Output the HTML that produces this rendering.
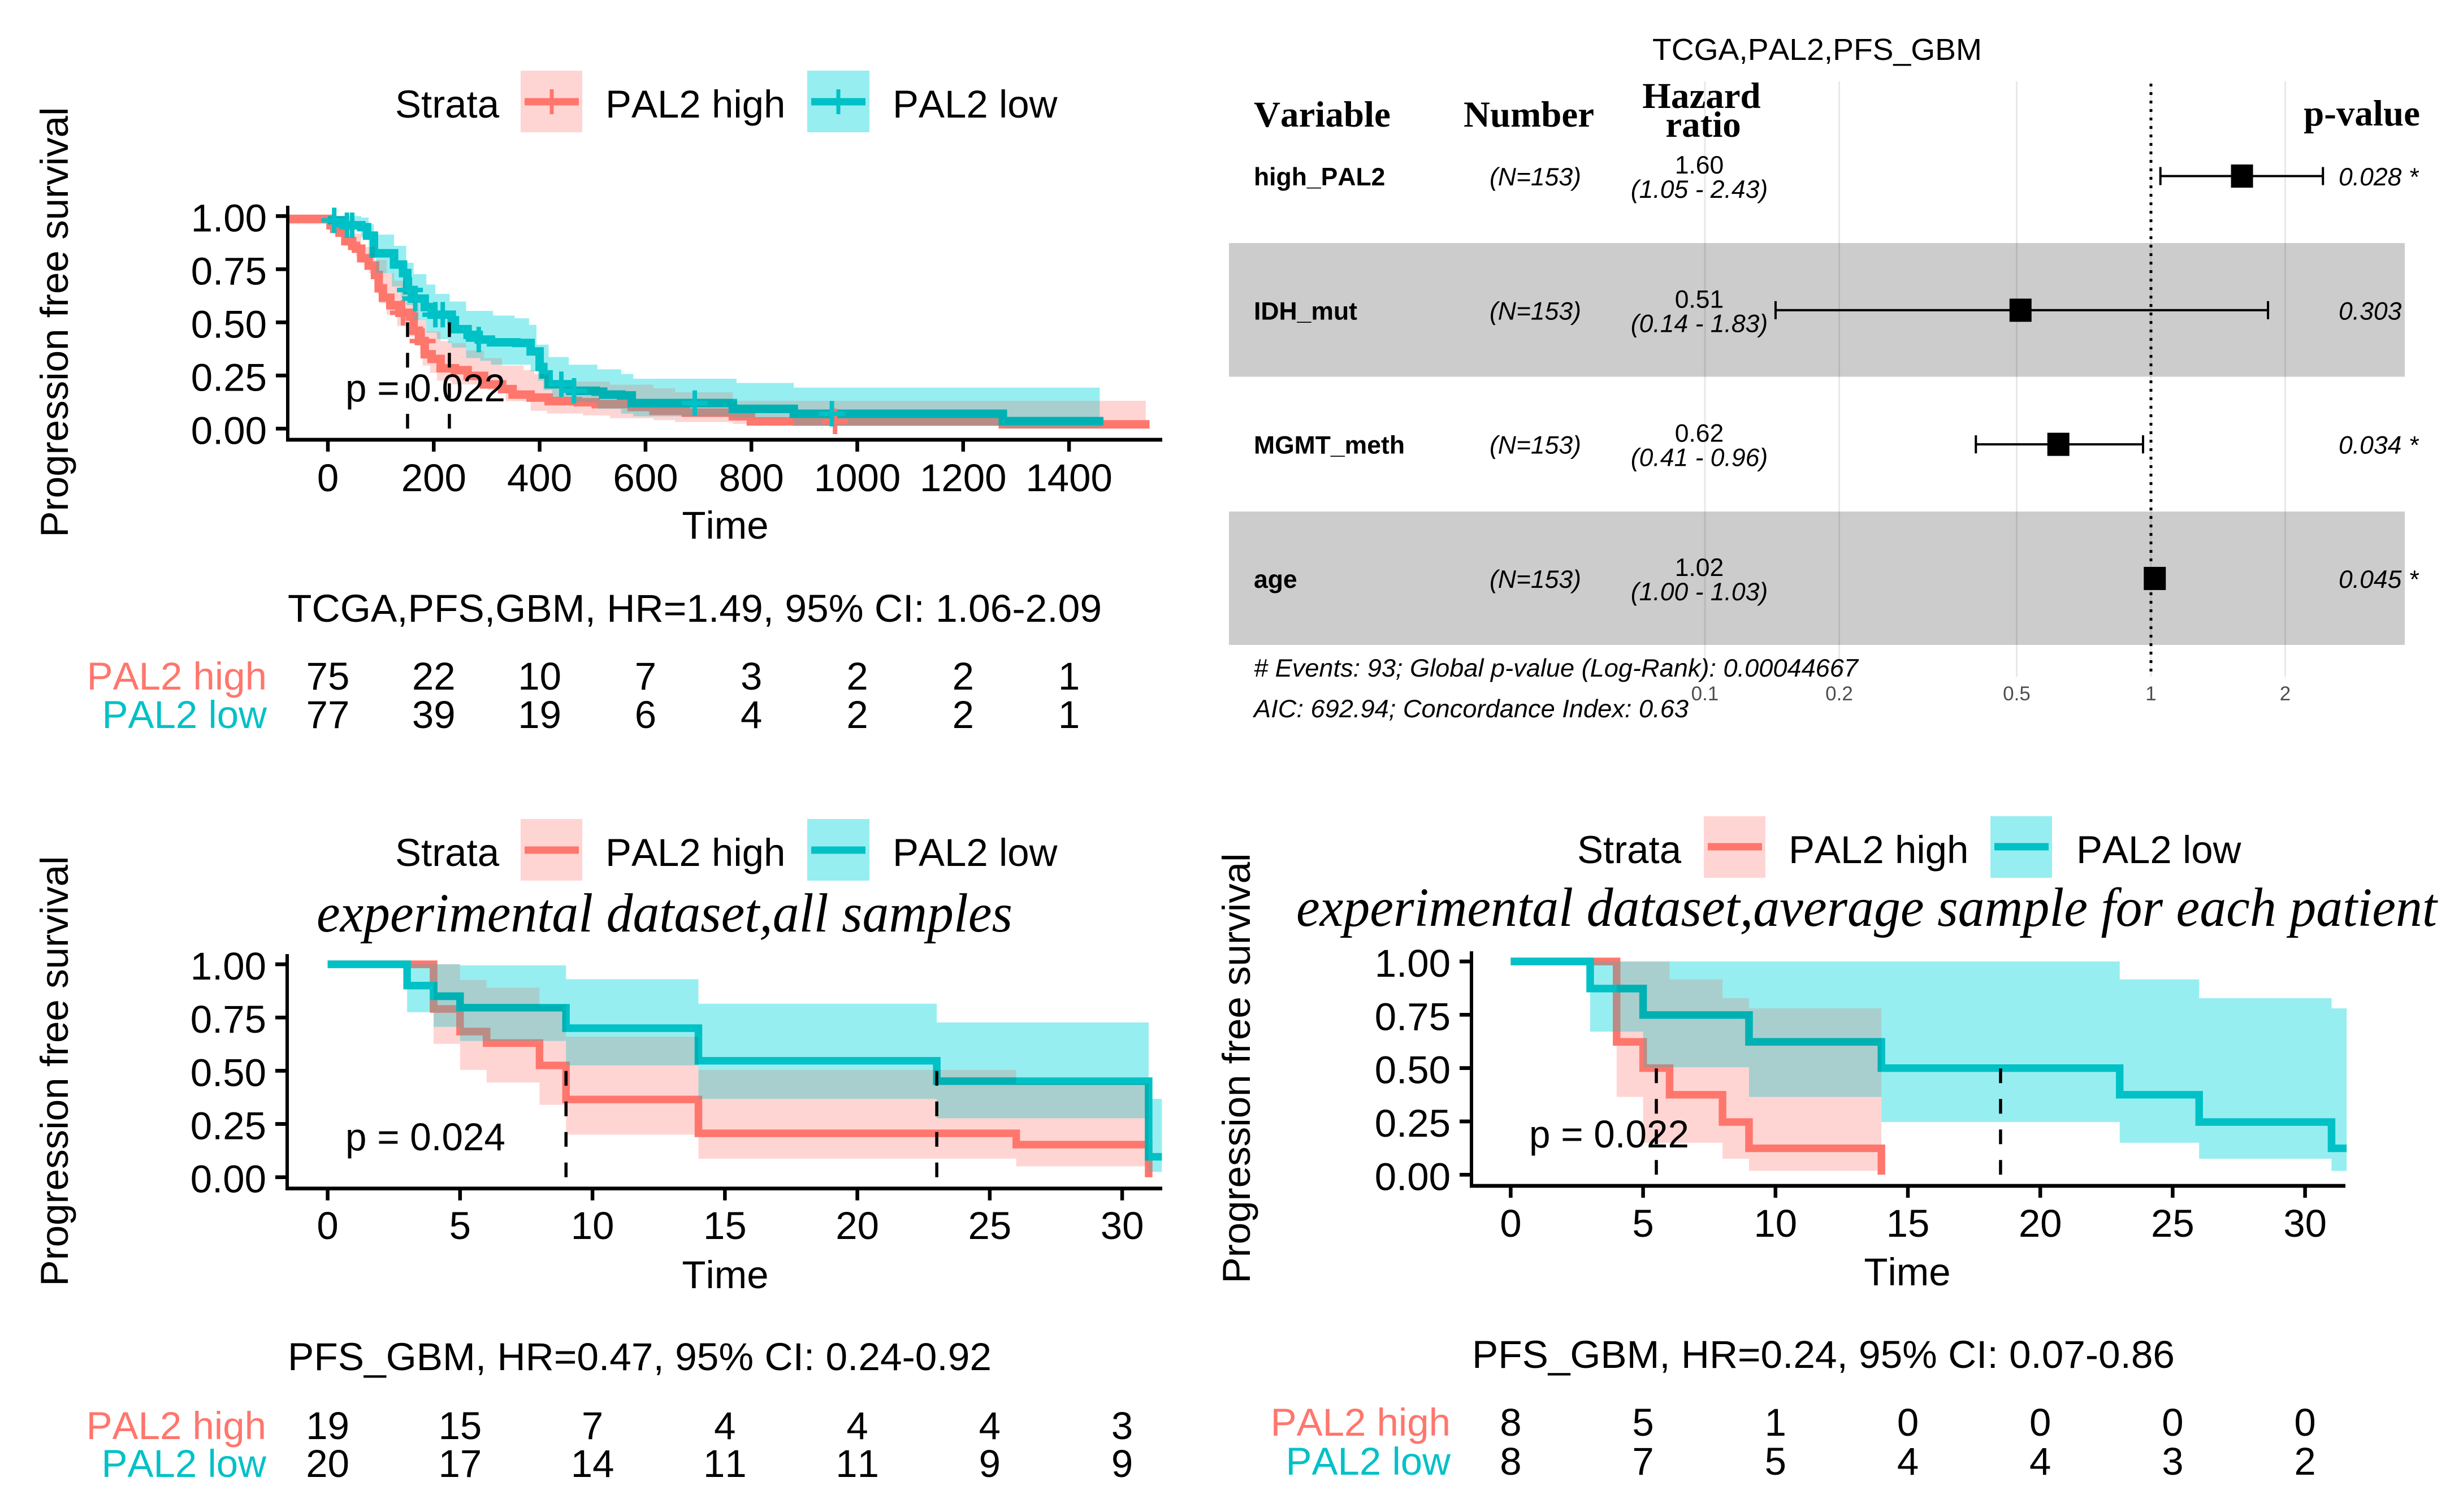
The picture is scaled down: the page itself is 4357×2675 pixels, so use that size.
<!DOCTYPE html>
<html lang="en">
<head>
<meta charset="utf-8">
<title>PAL2 survival analysis panels</title>
<style>
html,body{margin:0;padding:0;background:#fff;}
svg{display:block;}
text{font-family:"Liberation Sans",Arial,sans-serif;fill:#000;font-kerning:none;}
.big{font-size:69px;}
.serif-title{font-family:"Liberation Serif",serif;font-style:italic;font-size:98px;}
.head{font-family:"Liberation Serif",serif;font-weight:bold;font-size:65px;}
.fp{font-size:44.5px;}
</style>
</head>
<body>
<svg id="figure" xmlns="http://www.w3.org/2000/svg" width="4357" height="2675" viewBox="0 0 4357 2675">
  <rect x="0" y="0" width="4357" height="2675" fill="#ffffff"/>

  <g id="panel-a">
    <text class="big" transform="translate(120,570) rotate(-90)" text-anchor="middle" textLength="761" lengthAdjust="spacingAndGlyphs">Progression free survival</text>
    <g>
      <text class="big" x="699" y="208">Strata</text>
      <rect x="921" y="125" width="109" height="109" fill="#FFD5D3"/>
      <line x1="928" x2="1024" y1="180" y2="180" stroke="#FF766D" stroke-width="13"/>
      <line x1="976" x2="976" y1="158" y2="202" stroke="#FF766D" stroke-width="7"/>
      <text class="big" x="1071" y="208">PAL2 high</text>
      <rect x="1428" y="125" width="110" height="109" fill="#97EEF0"/>
      <line x1="1435" x2="1531" y1="180" y2="180" stroke="#00C1C6" stroke-width="13"/>
      <line x1="1483" x2="1483" y1="158" y2="202" stroke="#00C1C6" stroke-width="7"/>
      <text class="big" x="1579" y="208">PAL2 low</text>
    </g>
    <text class="big" x="1283" y="953" text-anchor="middle">Time</text>
    <text class="big" x="509" y="1100" textLength="1440" lengthAdjust="spacingAndGlyphs">TCGA,PFS,GBM, HR=1.49, 95% CI: 1.06-2.09</text>
  </g>

  <g id="panel-c">
    <text class="big" transform="translate(120,1895) rotate(-90)" text-anchor="middle" textLength="761" lengthAdjust="spacingAndGlyphs">Progression free survival</text>
    <g>
      <text class="big" x="699" y="1532">Strata</text>
      <rect x="921" y="1449" width="109" height="109" fill="#FFD5D3"/>
      <line x1="928" x2="1024" y1="1504" y2="1504" stroke="#FF766D" stroke-width="13"/>
      <text class="big" x="1071" y="1532">PAL2 high</text>
      <rect x="1428" y="1449" width="110" height="109" fill="#97EEF0"/>
      <line x1="1435" x2="1531" y1="1504" y2="1504" stroke="#00C1C6" stroke-width="13"/>
      <text class="big" x="1579" y="1532">PAL2 low</text>
    </g>
    <text class="serif-title" x="560" y="1648" textLength="1231" lengthAdjust="spacingAndGlyphs">experimental dataset,all samples</text>
    <text class="big" x="1283" y="2279" text-anchor="middle">Time</text>
    <text class="big" x="509" y="2424" textLength="1245" lengthAdjust="spacingAndGlyphs">PFS_GBM, HR=0.47, 95% CI: 0.24-0.92</text>
  </g>

  <g id="panel-d">
    <text class="big" transform="translate(2211,1890) rotate(-90)" text-anchor="middle" textLength="761" lengthAdjust="spacingAndGlyphs">Progression free survival</text>
    <g>
      <text class="big" x="2790" y="1527">Strata</text>
      <rect x="3014" y="1444" width="109" height="109" fill="#FFD5D3"/>
      <line x1="3021" x2="3117" y1="1498" y2="1498" stroke="#FF766D" stroke-width="13"/>
      <text class="big" x="3164" y="1527">PAL2 high</text>
      <rect x="3521" y="1444" width="109" height="109" fill="#97EEF0"/>
      <line x1="3528" x2="3624" y1="1498" y2="1498" stroke="#00C1C6" stroke-width="13"/>
      <text class="big" x="3673" y="1527">PAL2 low</text>
    </g>
    <text class="serif-title" x="2293" y="1638" textLength="2018" lengthAdjust="spacingAndGlyphs">experimental dataset,average sample for each patient</text>
    <text class="big" x="3374" y="2274" text-anchor="middle">Time</text>
    <text class="big" x="2604" y="2420" textLength="1243" lengthAdjust="spacingAndGlyphs">PFS_GBM, HR=0.24, 95% CI: 0.07-0.86</text>
  </g>

  <g id="panel-b">
    <text x="2923" y="106" font-size="54" textLength="583" lengthAdjust="spacingAndGlyphs">TCGA,PAL2,PFS_GBM</text>
    <rect x="2174" y="430" width="2080" height="236.5" fill="#CCCCCC"/>
    <rect x="2174" y="905" width="2080" height="236" fill="#CCCCCC"/>
    <text class="head" x="2218" y="224">Variable</text>
    <text class="head" x="2589" y="224">Number</text>
    <text class="head" x="3010" y="191" text-anchor="middle">Hazard</text>
    <text class="head" x="3013" y="242" text-anchor="middle">ratio</text>
    <text class="head" x="4281" y="222" text-anchor="end">p-value</text>
    <text class="fp" x="2218" y="1197" font-style="italic" textLength="1069" lengthAdjust="spacingAndGlyphs"># Events: 93; Global p-value (Log-Rank): 0.00044667</text>
    <text class="fp" x="2218" y="1269" font-style="italic" textLength="769" lengthAdjust="spacingAndGlyphs">AIC: 692.94; Concordance Index: 0.63</text>
  </g>
</svg>

<script>
/* Panel A: TCGA */
const aTicksX = [0, 200, 400, 600, 800, 1000, 1200, 1400];
const aHighTime = [-76,5,12,22,33,46,53,63,77,89,96,104,118,135,155,162,172,183,196,213,240,264,295,329,349,383,417,472,506,574,615,676,765,799,1275,1552];
const aHighSurv = [.987,.957,.94,.922,.882,.86,.847,.802,.767,.723,.66,.616,.581,.545,.527,.461,.412,.35,.328,.284,.275,.248,.208,.186,.16,.146,.129,.124,.115,.102,.084,.075,.058,.034,.02,.02];
const aHighUpperTime = [-76,33,63,89,111,125,145,162,172,186,213,234,261,295,329,370,390,417,533,615,656,765,1545];
const aHighUpper = [1,.918,.855,.793,.731,.696,.66,.59,.51,.457,.412,.403,.368,.332,.297,.275,.257,.222,.207,.19,.171,.131,.131];
const aHighLowerTime = [-76,33,53,63,77,94,97,111,131,152,165,179,193,206,234,302,336,383,414,482,533,615,656,765,799,1275,1545];
const aHighLower = [.962,.86,.811,.78,.731,.634,.59,.536,.483,.434,.403,.297,.262,.226,.208,.182,.129,.084,.071,.062,.049,.04,.031,.022,.014,.002,.002];
const aLowTime = [0,29,63,74,87,125,142,150,162,183,196,234,240,264,285,308,356,383,400,407,417,458,506,520,554,574,765,880,1275,1465];
const aLowSurv = [.98,.957,.948,.908,.825,.772,.732,.652,.612,.572,.536,.51,.468,.441,.419,.406,.403,.363,.29,.255,.209,.178,.174,.16,.156,.12,.093,.07,.035,.035];
const aLowUpperTime = [0,63,77,87,125,148,162,186,203,230,261,312,353,380,394,417,455,509,554,577,772,880,1458];
const aLowUpper = [1,.993,.962,.913,.86,.78,.727,.678,.634,.598,.554,.532,.519,.488,.395,.337,.301,.279,.257,.235,.215,.193,.193];
const aLowLowerTime = [0,29,63,77,91,121,138,148,162,186,206,227,234,261,288,308,383,397,407,424,458,509,554,577,765,880,1275,1458];
const aLowLower = [.971,.935,.9,.802,.731,.669,.616,.581,.51,.452,.421,.403,.381,.332,.319,.301,.27,.226,.182,.146,.124,.093,.071,.058,.049,.012,.002,.002];
const aHighCensor = [142, 179, 958];
const aLowCensor = [12, 36, 46, 155, 165, 203, 217, 285, 441, 465, 693, 952];
const aMedians = [150.5, 229.5];
const aRiskHigh = [75, 22, 10, 7, 3, 2, 2, 1];
const aRiskLow = [77, 39, 19, 6, 4, 2, 2, 1];

/* Panel C: experimental, all samples */
const cTicksX = [0, 5, 10, 15, 20, 25, 30];
const cHighTime = [0,4,5,6,8,9,14,26,31];
const cHighSurv = [1,.79,.684,.63,.525,.365,.206,.153,0];
const cHighUpperTime = [4,5,6,8,9,14,26,31];
const cHighUpper = [1,.926,.89,.81,.66,.504,.44,.44];
const cHighLowerTime = [4,5,6,8,9,14,26,31];
const cHighLower = [.626,.504,.445,.34,.2,.087,.051,.051];
const cLowTime = [0,3,4,5,9,14,23,31,31.5];
const cLowSurv = [1,.9,.85,.796,.7,.547,.451,.096,.096];
const cLowUpperTime = [3,5,9,14,23,31,31.5];
const cLowUpper = [1,.995,.93,.815,.727,.368,.368];
const cLowLowerTime = [3,4,5,9,14,23,31,31.5];
const cLowLower = [.775,.706,.64,.525,.368,.277,.025,.025];
const cMedians = [9, 23];
const cRiskHigh = [19, 15, 7, 4, 4, 4, 3];
const cRiskLow = [20, 17, 14, 11, 11, 9, 9];

/* Panel D: experimental, average sample for each patient */
const dTicksX = [0, 5, 10, 15, 20, 25, 30];
const dHighTime = [0,4,5,6,8,9,14];
const dHighSurv = [1,.623,.5,.375,.247,.124,0];
const dHighUpperTime = [4,6,8,9,14];
const dHighUpper = [1,.916,.828,.78,.78];
const dHighLowerTime = [4,5,8,9,14];
const dHighLower = [.365,.15,.075,.018,.018];
const dLowTime = [0,3,5,9,14,23,26,31,31.57];
const dLowSurv = [1,.873,.749,.623,.5,.375,.247,.124,.124];
const dLowUpperTime = [3,23,26,31,31.57];
const dLowUpper = [1,.916,.828,.78,.78];
const dLowLowerTime = [3,5,9,14,23,26,31,31.57];
const dLowLower = [.671,.504,.365,.247,.15,.075,.018,.018];
const dMedians = [5.5, 18.5];
const dRiskHigh = [8, 5, 1, 0, 0, 0, 0];
const dRiskLow = [8, 7, 5, 4, 4, 3, 2];

/* Shared y axis */
const yTickValues = [0, 0.25, 0.5, 0.75, 1];
const yTickLabels = ['0.00', '0.25', '0.50', '0.75', '1.00'];

/* Forest plot */
const forestVariables = ['high_PAL2', 'IDH_mut', 'MGMT_meth', 'age'];
const forestCounts = ['(N=153)', '(N=153)', '(N=153)', '(N=153)'];
const forestHR = [1.6, 0.51, 0.62, 1.02];
const forestLow = [1.05, 0.144, 0.405, 1.0];
const forestHigh = [2.43, 1.83, 0.96, 1.03];
const forestHRLabels = ['1.60', '0.51', '0.62', '1.02'];
const forestCILabels = ['(1.05 - 2.43)', '(0.14 - 1.83)', '(0.41 - 0.96)', '(1.00 - 1.03)'];
const forestPLabels = ['0.028 *', '0.303', '0.034 *', '0.045 *'];
const forestTicks = [0.1, 0.2, 0.5, 1, 2];
const forestTickLabels = ['0.1', '0.2', '0.5', '1', '2'];

const NS = 'http://www.w3.org/2000/svg';
const RED = '#FF766D';
const TEAL = '#00C1C6';

function node(tag, parent, attrs) {
  const n = document.createElementNS(NS, tag);
  for (const k in attrs) n.setAttribute(k, attrs[k]);
  parent.appendChild(n);
  return n;
}

function stepForward(times, vals, end, fx, fy) {
  let d = '';
  for (let i = 0; i < times.length; i++) {
    d += (i ? 'V' : 'M' + fx(times[0]) + ' ') + fy(vals[i]);
    const next = i + 1 < times.length ? times[i + 1] : end;
    d += 'H' + fx(next);
  }
  return d;
}

function bandPath(upT, up, loT, lo, fx, fy) {
  const end = upT[upT.length - 1];
  let d = stepForward(upT, up, end, fx, fy);
  for (let i = loT.length - 1; i >= 0; i--) {
    d += 'V' + fy(lo[i]);
    d += 'H' + fx(loT[i]);
  }
  return d + 'Z';
}

function drawSurvival(p) {
  const root = document.getElementById(p.id);
  const fx = function (t) { return p.x0 + t * p.unit; };
  const fy = function (s) { return p.y0 - s * (p.y0 - p.y1); };

  const marks = node('g', root, {});
  
  

  const highBandD = bandPath(p.high.upT, p.high.up, p.high.loT, p.high.lo, fx, fy);
  const lowBandD = bandPath(p.low.upT, p.low.up, p.low.loT, p.low.lo, fx, fy);
  const highLineD = stepForward(p.high.t, p.high.s, p.high.t[p.high.t.length - 1], fx, fy);
  const lowLineD = stepForward(p.low.t, p.low.s, p.low.t[p.low.t.length - 1], fx, fy);

  const defs = node('defs', marks, {});
  const clipHigh = node('clipPath', defs, { id: p.id + '-clip-high' });
  node('path', clipHigh, { d: highBandD });
  const clipLow = node('clipPath', defs, { id: p.id + '-clip-low' });
  node('path', clipLow, { d: lowBandD });

  const bandHigh = node('path', marks, { d: highBandD, fill: '#FFD5D3' });
  
  

  const bandLow = node('path', marks, { d: lowBandD, fill: '#97EEF0' });
  
  

  const overlap = node('path', marks, { d: lowBandD, fill: '#A8CFCE', 'clip-path': 'url(#' + p.id + '-clip-high)' });
  
  

  const lineHigh = node('path', marks, { d: highLineD, fill: 'none', stroke: RED, 'stroke-width': p.lineWidth });
  
  

  const lineHighShade = node('path', marks, { d: highLineD, fill: 'none', stroke: '#B98C86', 'stroke-width': p.lineWidth, 'clip-path': 'url(#' + p.id + '-clip-low)' });
  
  

  const lineLow = node('path', marks, { d: lowLineD, fill: 'none', stroke: TEAL, 'stroke-width': p.lineWidth });
  
  

  const lineLowShade = node('path', marks, { d: lowLineD, fill: 'none', stroke: '#00B1B3', 'stroke-width': p.lineWidth, 'clip-path': 'url(#' + p.id + '-clip-high)' });
  
  

  function survAt(series, t) {
    let v = series.s[0];
    for (let i = 0; i < series.t.length; i++) if (series.t[i] <= t) v = series.s[i];
    return v;
  }
  function drawCensors(series, list, color, label) {
    list.forEach(function (t) {
      const cx = fx(t);
      const cy = fy(survAt(series, t));
      const c = node('path', marks, { d: 'M' + (cx - 23) + ' ' + cy + 'H' + (cx + 23) + 'M' + cx + ' ' + (cy - 22.5) + 'V' + (cy + 22.5), fill: 'none', stroke: color, 'stroke-width': 8 });
      
      
    });
  }
  if (p.high.censor) drawCensors(p.high, p.high.censor, RED, 'high');
  if (p.low.censor) drawCensors(p.low, p.low.censor, TEAL, 'low');

  p.medians.forEach(function (t) {
    const m = node('line', marks, { x1: fx(t), x2: fx(t), y1: fy(0), y2: fy(0.5), stroke: '#000', 'stroke-width': 5.5, 'stroke-dasharray': '26 28' });
    
    
  });

  const yAxis = node('line', root, { x1: p.axisX, x2: p.axisX, y1: p.axisTop, y2: p.axisY + 3, stroke: '#000', 'stroke-width': 6 });
  
  

  const xAxis = node('line', root, { x1: p.axisX - 3, x2: p.axisEnd, y1: p.axisY, y2: p.axisY, stroke: '#000', 'stroke-width': 6.7 });
  
  

  yTickValues.forEach(function (v, i) {
    const tick = node('line', root, { x1: p.axisX - 21, x2: p.axisX, y1: fy(v), y2: fy(v), stroke: '#000', 'stroke-width': 6.7 });
    
    
    const label = node('text', root, { x: p.axisX - 37, y: fy(v) + 27, 'text-anchor': 'end', class: 'big' });
    
    
    label.textContent = yTickLabels[i];
  });

  p.ticksX.forEach(function (v, i) {
    const tick = node('line', root, { x1: fx(v), x2: fx(v), y1: p.axisY, y2: p.axisY + 21, stroke: '#000', 'stroke-width': 6.5 });
    
    
    const label = node('text', root, { x: fx(v), y: p.tickLabelY, 'text-anchor': 'middle', class: 'big' });
    
    
    label.textContent = String(v);

    const rh = node('text', root, { x: fx(v), y: p.riskHighY, 'text-anchor': 'middle', class: 'big' });
    
    
    rh.textContent = String(p.riskHigh[i]);
    const rl = node('text', root, { x: fx(v), y: p.riskLowY, 'text-anchor': 'middle', class: 'big' });
    
    
    rl.textContent = String(p.riskLow[i]);
  });

  const nameHigh = node('text', root, { x: p.axisX - 37, y: p.riskHighY, 'text-anchor': 'end', class: 'big', style: 'fill:' + RED });
  
  
  nameHigh.textContent = 'PAL2 high';
  const nameLow = node('text', root, { x: p.axisX - 37, y: p.riskLowY, 'text-anchor': 'end', class: 'big', style: 'fill:' + TEAL });
  
  
  nameLow.textContent = 'PAL2 low';

  const pText = node('text', root, { x: p.pX, y: p.pY, class: 'big', textLength: 283, lengthAdjust: 'spacingAndGlyphs' });
  
  
  pText.textContent = p.pLabel;
}

drawSurvival({
  id: 'panel-a', x0: 580, unit: 0.9365, y1: 382.3, y0: 758.3, lineWidth: 15,
  axisX: 509, axisY: 778, axisTop: 364, axisEnd: 2056, tickLabelY: 869, riskHighY: 1220, riskLowY: 1288,
  pX: 611, pY: 710, pLabel: 'p = 0.022', ticksX: aTicksX, medians: aMedians, riskHigh: aRiskHigh, riskLow: aRiskLow,
  high: { t: aHighTime, s: aHighSurv, upT: aHighUpperTime, up: aHighUpper, loT: aHighLowerTime, lo: aHighLower, censor: aHighCensor },
  low: { t: aLowTime, s: aLowSurv, upT: aLowUpperTime, up: aLowUpper, loT: aLowLowerTime, lo: aLowLower, censor: aLowCensor }
});
drawSurvival({
  id: 'panel-c', x0: 579.6, unit: 46.85, y1: 1706, y0: 2082.7, lineWidth: 13.4,
  axisX: 508, axisY: 2102.7, axisTop: 1688, axisEnd: 2056, tickLabelY: 2192, riskHighY: 2546, riskLowY: 2613,
  pX: 611, pY: 2035, pLabel: 'p = 0.024', ticksX: cTicksX, medians: cMedians, riskHigh: cRiskHigh, riskLow: cRiskLow,
  high: { t: cHighTime, s: cHighSurv, upT: cHighUpperTime, up: cHighUpper, loT: cHighLowerTime, lo: cHighLower },
  low: { t: cLowTime, s: cLowSurv, upT: cLowUpperTime, up: cLowUpper, loT: cLowLowerTime, lo: cLowLower }
});
drawSurvival({
  id: 'panel-d', x0: 2672.4, unit: 46.84, y1: 1701, y0: 2078.3, lineWidth: 13.4,
  axisX: 2603, axisY: 2098, axisTop: 1683, axisEnd: 4149, tickLabelY: 2188, riskHighY: 2540, riskLowY: 2609,
  pX: 2705, pY: 2030, pLabel: 'p = 0.022', ticksX: dTicksX, medians: dMedians, riskHigh: dRiskHigh, riskLow: dRiskLow,
  high: { t: dHighTime, s: dHighSurv, upT: dHighUpperTime, up: dHighUpper, loT: dHighLowerTime, lo: dHighLower },
  low: { t: dLowTime, s: dLowSurv, upT: dLowUpperTime, up: dLowUpper, loT: dLowLowerTime, lo: dLowLower }
});

(function drawForest() {
  const root = document.getElementById('panel-b');
  const fx = function (v) { return 3805 + Math.log10(v) * 789; };
  const rowY = function (i) { return 311.5 + i * 237.3; };

  forestTicks.forEach(function (v, i) {
    const g = node('line', root, { x1: fx(v), x2: fx(v), y1: 144, y2: 1197, stroke: 'rgba(0,0,0,0.09)', 'stroke-width': 3 });
    
    
    const t = node('text', root, { x: fx(v), y: 1239, 'text-anchor': 'middle', 'font-size': 35, style: 'fill:#4D4D4D' });
    
    
    t.textContent = forestTickLabels[i];
  });

  const refLine = node('line', root, { x1: fx(1), x2: fx(1), y1: 148, y2: 1197, stroke: '#000', 'stroke-width': 5, 'stroke-dasharray': '5 10' });
  
  

  forestVariables.forEach(function (name, i) {
    const y = rowY(i);
    const v = node('text', root, { x: 2218, y: y + 16.5, class: 'fp', 'font-weight': 'bold' });
    
    
    v.textContent = name;

    const n = node('text', root, { x: 2716, y: y + 16.5, class: 'fp', 'font-style': 'italic', 'text-anchor': 'middle' });
    
    
    n.textContent = forestCounts[i];

    const hr = node('text', root, { x: 3006, y: y - 4.5, class: 'fp', 'text-anchor': 'middle' });
    
    
    hr.textContent = forestHRLabels[i];

    const ci = node('text', root, { x: 3006, y: y + 38.5, class: 'fp', 'font-style': 'italic', 'text-anchor': 'middle' });
    
    
    ci.textContent = forestCILabels[i];

    const pv = node('text', root, { x: 4137, y: y + 16.5, class: 'fp', 'font-style': 'italic' });
    
    
    pv.textContent = forestPLabels[i];

    const ciLine = node('path', root, { d: 'M' + fx(forestLow[i]) + ' ' + (y - 16) + 'V' + (y + 16) + 'M' + fx(forestLow[i]) + ' ' + y + 'H' + fx(forestHigh[i]) + 'M' + fx(forestHigh[i]) + ' ' + (y - 16) + 'V' + (y + 16), fill: 'none', stroke: '#000', 'stroke-width': 4 });
    
    

    const sq = node('rect', root, { x: fx(forestHR[i]) - 19.5, y: y - 20.5, width: 39, height: 41, fill: '#000' });
    
    
  });
})();
</script>
</body>
</html>
